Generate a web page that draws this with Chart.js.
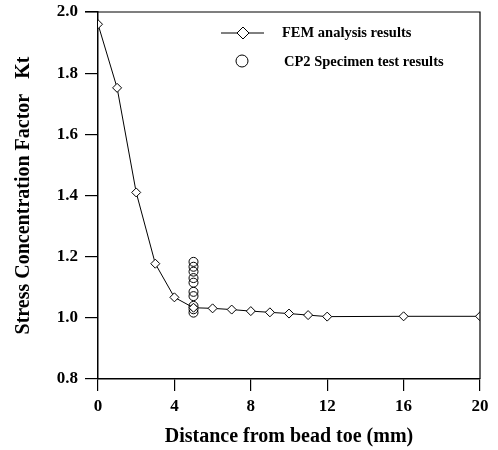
<!DOCTYPE html>
<html>
<head>
<meta charset="utf-8">
<script src="https://cdn.jsdelivr.net/npm/chart.js@4"></script>
<style>
html,body{margin:0;padding:0;background:#fff;}
#wrap{width:498px;height:450px;}
</style>
</head>
<body>
<div id="wrap"><canvas id="c" width="498" height="450"></canvas></div>
<script>
const femX = [0, 1, 2, 3, 4, 5, 6, 7, 8, 9, 10, 11, 12, 16, 20];
const femKt = [1.96, 1.752, 1.41, 1.177, 1.067, 1.033, 1.031, 1.027, 1.022, 1.018, 1.014, 1.009, 1.004, 1.005, 1.005];
const testX = [5, 5, 5, 5, 5, 5, 5, 5, 5, 5];
const testKt = [1.183, 1.167, 1.151, 1.130, 1.115, 1.085, 1.071, 1.039, 1.028, 1.017];
const seriesLabels = ["FEM analysis results", "CP2 Specimen test results"];
const xTicks = [0, 4, 8, 12, 16, 20];
const yTicks = [0.8, 1.0, 1.2, 1.4, 1.6, 1.8, 2.0];
const xTitle = "Distance from bead toe (mm)";
const yTitle = "Stress Concentration Factor   Kt";

const SERIF = "'Liberation Serif', 'Times New Roman', serif";

const framePlugin = {
  id: 'frame',
  afterDraw(chart) {
    const {ctx, chartArea: a} = chart;
    ctx.save();
    ctx.strokeStyle = '#000';
    ctx.lineWidth = 1.2;
    ctx.beginPath();
    ctx.moveTo(a.left - 13, a.top);
    ctx.lineTo(a.right, a.top);
    ctx.lineTo(a.right, a.bottom);
    ctx.stroke();
    // legend
    const ds = chart.data.datasets;
    ctx.font = "bold 14.5px " + SERIF;
    ctx.fillStyle = '#000';
    ctx.textBaseline = 'middle';
    ctx.lineWidth = 1;
    ctx.beginPath();
    ctx.moveTo(221, 33);
    ctx.lineTo(264, 33);
    ctx.stroke();
    Chart.helpers.drawPoint(ctx, {pointStyle: 'rectRot', radius: 6, borderWidth: 1}, 243, 33);
    ctx.fillStyle = '#fff';
    ctx.fill();
    ctx.stroke();
    ctx.fillStyle = '#000';
    ctx.fillText(ds[0].label, 282, 33);
    ctx.beginPath();
    ctx.ellipse(242, 61, 6, 6, 0, 0, Math.PI * 2);
    ctx.stroke();
    ctx.fillText(ds[1].label, 284, 62);
    ctx.restore();
  }
};

new Chart(document.getElementById('c'), {
  type: 'scatter',
  data: {
    datasets: [
      {
        label: seriesLabels[0],
        data: femX.map((x, i) => ({x: x, y: femKt[i]})),
        showLine: true,
        borderColor: '#000',
        borderWidth: 1,
        tension: 0,
        pointStyle: 'rectRot',
        pointRadius: 4.5,
        pointBackgroundColor: '#fff',
        pointBorderColor: '#000',
        pointBorderWidth: 1
      },
      {
        label: seriesLabels[1],
        data: testX.map((x, i) => ({x: x, y: testKt[i]})),
        showLine: false,
        pointStyle: 'circle',
        pointRadius: 4.5,
        pointBackgroundColor: 'rgba(255,255,255,0)',
        pointBorderColor: '#000',
        pointBorderWidth: 1
      }
    ]
  },
  options: {
    responsive: false,
    animation: false,
    devicePixelRatio: 1,
    layout: {padding: {top: 12, right: 18, left: 0, bottom: 0}},
    plugins: {legend: {display: false}, tooltip: {enabled: false}},
    scales: {
      x: {
        type: 'linear',
        min: 0, max: 20,
        afterBuildTicks(s) { s.ticks = xTicks.map(v => ({value: v})); },
        afterFit(s) { s.height = 71; s.paddingLeft = 0; s.paddingRight = 0; },
        grid: {display: true, drawOnChartArea: false, drawTicks: true, tickLength: 12, color: '#000', lineWidth: 1.2},
        border: {display: true, color: '#000', width: 1.5},
        ticks: {color: '#000', padding: 5, font: {family: SERIF, size: 17, weight: 'bold'}, maxRotation: 0},
        title: {display: true, text: xTitle, color: '#000', font: {family: SERIF, size: 20, weight: 'bold'}, padding: {top: 0, bottom: 1}}
      },
      y: {
        type: 'linear',
        min: 0.8, max: 2.0,
        afterBuildTicks(s) { s.ticks = yTicks.map(v => ({value: v})); },
        afterFit(s) { s.width = 98; s.paddingTop = 0; s.paddingBottom = 0; },
        grid: {display: true, drawOnChartArea: false, drawTicks: true, tickLength: 13, color: '#000', lineWidth: 1.2},
        border: {display: true, color: '#000', width: 1.5},
        ticks: {color: '#000', padding: 7, font: {family: SERIF, size: 17, weight: 'bold'}, callback: v => Number(v).toFixed(1)},
        title: {display: true, text: yTitle, color: '#000', font: {family: SERIF, size: 20, weight: 'bold'}, padding: {top: 12, bottom: 0}}
      }
    }
  },
  plugins: [framePlugin]
});
</script>
</body>
</html>
